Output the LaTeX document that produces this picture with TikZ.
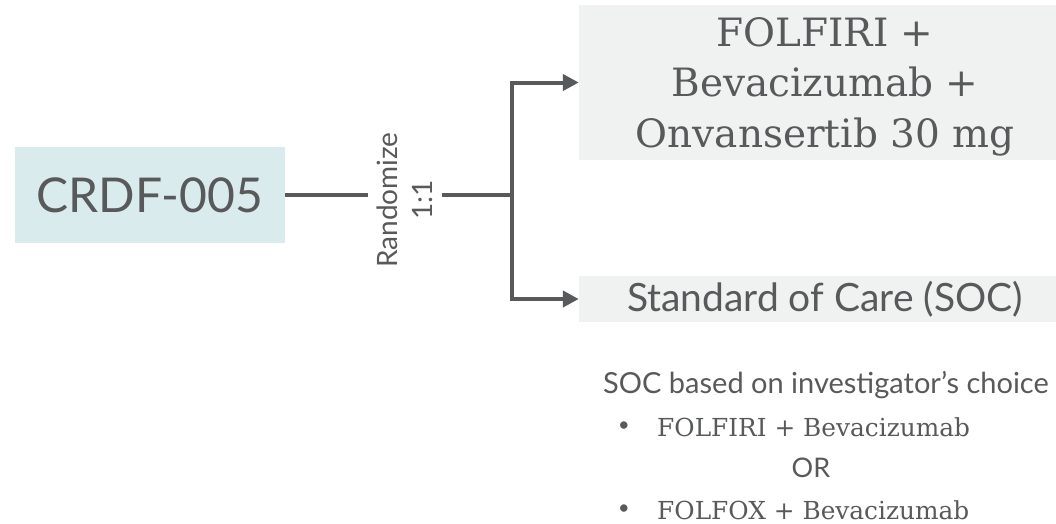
\documentclass[tikz,border=0pt]{standalone}
\usepackage{fontspec}
\setmainfont{Lato}
\newfontfamily\slabfont{DejaVu Serif}
\usetikzlibrary{arrows.meta}
\definecolor{ink}{HTML}{58595B}
\definecolor{studyblue}{HTML}{DAEBEE}
\definecolor{armgray}{HTML}{F0F2F2}

\begin{document}
\begin{tikzpicture}[x=1pt,y=-1pt,
  every node/.style={text=ink,inner sep=0pt},
  link/.style={draw=ink,line width=4pt},
  arrowlink/.style={link,-{Triangle[length=16pt,width=16pt]}},
  armbox/.style={fill=armgray,minimum width=492pt,align=center}]
\useasboundingbox (0,0) rectangle (1056,523);

% study and the two arms
\node[fill=studyblue,minimum width=270pt,minimum height=96pt,
      font=\fontsize{48}{56}\selectfont] (crdf) at (150,195) {CRDF-005};
\node[armbox,minimum height=155pt,text depth=0pt,
      font=\slabfont\fontsize{39}{50.5}\selectfont] (arm1) at (825,82.5)
      {FOLFIRI +\\Bevacizumab +\\Onvansertib 30 mg};
\node[armbox,minimum height=46pt,
      font=\fontsize{39}{44}\selectfont] (soc) at (825,299)
      {Standard of Care (SOC)};

% randomisation
\coordinate (split) at (512,195);
\draw[link] (crdf.east) -- (split);
\node[fill=white,rotate=90,align=center,inner xsep=2pt,inner ysep=9pt,
      font=\fontsize{28}{35}\selectfont] (rnd) at (405,200) {Randomize\\1:1};
\draw[arrowlink] (split) |- (arm1.west);
\draw[arrowlink] (split) |- (soc.west);

% SOC options
\node[anchor=base west,font=\fontsize{29}{34}\selectfont] (note) at (603,393)
      {SOC based on investigator’s choice};
\node[anchor=base west,font=\slabfont\fontsize{24.8}{30}\selectfont] (opt1) at (657,436)
      {FOLFIRI + Bevacizumab};
\node[anchor=base,font=\fontsize{27}{30}\selectfont] (or) at (811,477) {OR};
\node[anchor=base west,font=\slabfont\fontsize{24.8}{30}\selectfont] (opt2) at (657,519)
      {FOLFOX + Bevacizumab};
\node[font=\fontsize{20}{24}\selectfont] (bul1) at (624,427) {•};
\node[font=\fontsize{20}{24}\selectfont] (bul2) at (624,510) {•};
\end{tikzpicture}
\end{document}
